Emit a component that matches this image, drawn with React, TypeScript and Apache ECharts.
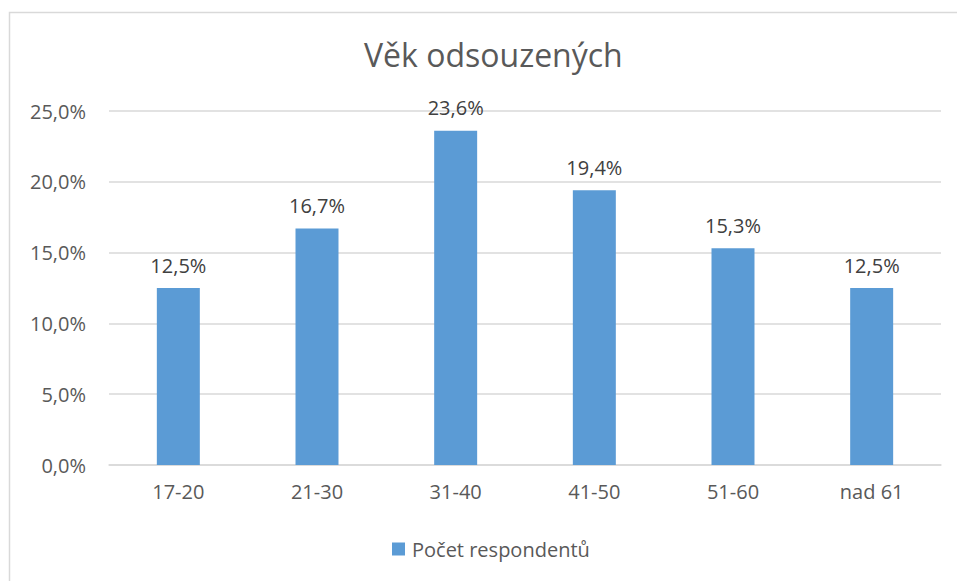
import React, { useEffect, useRef } from "react";
import * as echarts from "echarts";

const categories = ["17-20", "21-30", "31-40", "41-50", "51-60", "nad 61"];
const values = [12.5, 16.7, 23.6, 19.4, 15.3, 12.5];
const seriesName = "Počet respondentů";
const title = "Věk odsouzených";

const fmt = (v: number) => v.toFixed(1).replace(".", ",") + "%";

export default function App() {
  const ref = useRef<HTMLDivElement>(null);
  useEffect(() => {
    const chart = echarts.init(ref.current!, undefined, { renderer: "svg" });
    const font = "Open Sans, Noto Sans, sans-serif";
    chart.setOption({
      animation: false,
      backgroundColor: "#ffffff",
      textStyle: { fontFamily: font },
      title: {
        text: title,
        left: 359,
        top: 33,
        textStyle: { fontSize: 32, fontWeight: "normal", color: "#595959", fontFamily: font },
      },
      graphic: [
        {
          type: "rect",
          shape: { x: 9.5, y: 12.5, width: 1000, height: 1000 },
          style: { fill: "none", stroke: "#d9d9d9", lineWidth: 1.5 },
          silent: true,
        },
      ],
      legend: {
        bottom: 17,
        left: 387,
        itemWidth: 13,
        itemHeight: 13,
        itemGap: 8,
        icon: "rect",
        textStyle: { fontSize: 20, color: "#595959", fontFamily: font, padding: [0, 0, 0, 2] },
        data: [seriesName],
      },
      grid: { left: 109, right: 16, top: 111, bottom: 116, containLabel: false },
      xAxis: {
        type: "category",
        data: categories,
        axisTick: { show: false },
        axisLine: { lineStyle: { color: "#d9d9d9", width: 1.5 } },
        axisLabel: { fontSize: 20, color: "#595959", margin: 16, fontFamily: font },
      },
      yAxis: {
        type: "value",
        min: 0,
        max: 25,
        interval: 5,
        axisLine: { show: false },
        axisTick: { show: false },
        splitLine: { lineStyle: { color: "#d9d9d9", width: 1.5 } },
        axisLabel: { fontSize: 20, color: "#595959", margin: 23, formatter: (v: number) => fmt(v), fontFamily: font },
      },
      series: [
        {
          name: seriesName,
          type: "bar",
          data: values,
          barWidth: "31%",
          itemStyle: { color: "#5b9bd5" },
          label: {
            show: true,
            position: "top",
            distance: 13,
            fontSize: 20,
            color: "#404040",
            fontFamily: font,
            formatter: (p: any) => fmt(p.value),
          },
        },
      ],
    });
    return () => chart.dispose();
  }, []);
  return (
    <div
      ref={ref}
      style={{ position: "absolute", left: 0, top: 0, width: 957, height: 581 }}
    />
  );
}
